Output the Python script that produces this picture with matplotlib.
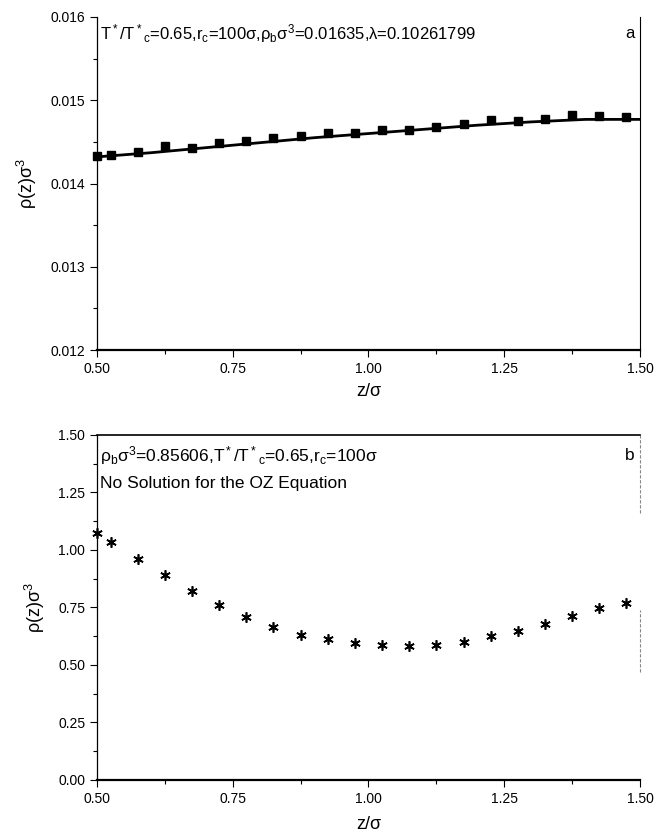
import matplotlib
matplotlib.use("Agg")
import matplotlib.pyplot as plt
from matplotlib.ticker import MultipleLocator, FormatStrFormatter

# panel a: simulation points and theory curve
z_a = [0.5, 0.525, 0.575, 0.625, 0.675, 0.725, 0.775, 0.825, 0.875, 0.925,
       0.975, 1.025, 1.075, 1.125, 1.175, 1.225, 1.275, 1.325, 1.375, 1.425, 1.475]
rho_a = [0.014328, 0.014348, 0.01438, 0.014448, 0.014432, 0.014492, 0.014516,
         0.014548, 0.014568, 0.014608, 0.014612, 0.01464, 0.014648, 0.014676,
         0.01472, 0.01476, 0.014748, 0.01478, 0.01482, 0.014808, 0.0148]
z_line = [0.5, 0.6, 0.7, 0.8, 0.9, 1.0, 1.1, 1.2, 1.3, 1.4, 1.5]
rho_line = [0.01432, 0.01437, 0.01443, 0.01449, 0.01455, 0.0146, 0.01465,
            0.01470, 0.01474, 0.01477, 0.01477]

# panel b: simulation points only
z_b = z_a
rho_b = [1.073, 1.035, 0.961, 0.890, 0.823, 0.760, 0.709, 0.666, 0.632, 0.613,
         0.597, 0.588, 0.584, 0.589, 0.602, 0.624, 0.648, 0.680, 0.713, 0.749, 0.770]

plt.rcParams.update({
    "font.family": ["Liberation Sans", "DejaVu Sans"],
    "mathtext.fontset": "custom",
    "mathtext.rm": "Liberation Sans",
    "mathtext.it": "Liberation Sans",
    "font.size": 10,
})

fig = plt.figure(figsize=(6.63, 8.36), dpi=100)
ax_a = fig.add_axes([0.1463, 0.5813, 0.819, 0.3984])
ax_b = fig.add_axes([0.1463, 0.067, 0.819, 0.4127])


def style_axes(ax, xpad):
    ax.tick_params(which="both", direction="out", right=False, top=False,
                   labelsize=10, width=0.8)
    ax.tick_params(which="major", length=5)
    ax.tick_params(which="minor", length=3)
    ax.xaxis.set_major_locator(MultipleLocator(0.25))
    ax.xaxis.set_minor_locator(MultipleLocator(0.125))
    ax.xaxis.set_major_formatter(FormatStrFormatter("%.2f"))
    ax.set_xlim(0.5, 1.5)
    ax.spines["bottom"].set_linewidth(1.6)
    ax.spines["left"].set_linewidth(0.9)
    ax.spines["right"].set_linewidth(0.8)
    ax.spines["top"].set_linewidth(1.2)
    ax.set_xlabel("z/σ", fontsize=13, labelpad=xpad)
    ax.set_ylabel(r"ρ(z)σ$^3$", fontsize=13, labelpad=8)


# --- panel a ---
style_axes(ax_a, 5)
ax_a.plot(z_line, rho_line, color="black", linewidth=2)
ax_a.plot(z_a, rho_a, "s", color="black", markersize=5.5, clip_on=False)
ax_a.set_ylim(0.012, 0.016)
ax_a.yaxis.set_major_locator(MultipleLocator(0.001))
ax_a.yaxis.set_minor_locator(MultipleLocator(0.0005))
ax_a.yaxis.set_major_formatter(FormatStrFormatter("%.3f"))
ax_a.spines["top"].set_visible(False)
ax_a.text(0.506, 0.0158,
          r"T$^*$/T$^*$$_c$=0.65,r$_c$=100σ,ρ$_b$σ$^3$=0.01635,λ=0.10261799",
          fontsize=12, va="center", ha="left")
ax_a.text(1.49, 0.0158, "a", fontsize=12, va="center", ha="right")

# --- panel b ---
style_axes(ax_b, 7)
ax_b.plot(z_b, rho_b, linestyle="none", marker=(6, 2, 0), color="black",
          markersize=7.5, markeredgewidth=1.2, clip_on=False)
ax_b.set_ylim(0.0, 1.5)
ax_b.yaxis.set_major_locator(MultipleLocator(0.25))
ax_b.yaxis.set_minor_locator(MultipleLocator(0.125))
ax_b.yaxis.set_major_formatter(FormatStrFormatter("%.2f"))
ax_b.spines["right"].set_visible(False)
for lo, hi in [(0.775, 1.0), (0.313, 0.493)]:
    ax_b.axvline(1.5, ymin=lo, ymax=hi, color="#888888", linewidth=0.8,
                 linestyle=(0, (3, 1.5)), clip_on=False)
ax_b.text(0.506, 1.41, r"ρ$_b$σ$^3$=0.85606,T$^*$/T$^*$$_c$=0.65,r$_c$=100σ",
          fontsize=12.5, va="center", ha="left")
ax_b.text(0.506, 1.29, "No Solution for the OZ Equation",
          fontsize=12.5, va="center", ha="left")
ax_b.text(1.49, 1.41, "b", fontsize=12.5, va="center", ha="right")

fig.savefig("out.png", dpi=100)
